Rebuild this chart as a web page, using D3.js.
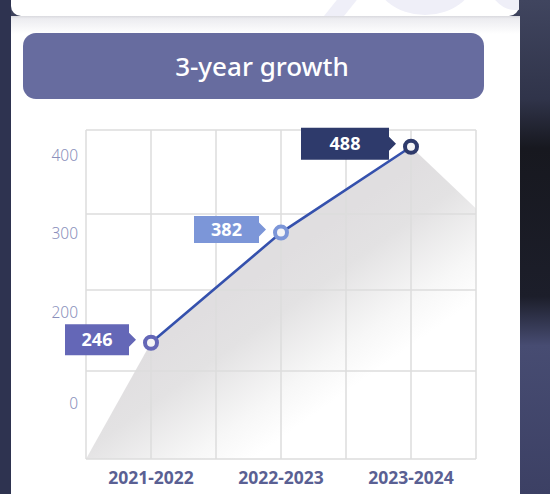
<!DOCTYPE html>
<html><head><meta charset="utf-8">
<script src="https://cdn.jsdelivr.net/npm/d3@7"></script>
<style>html,body{margin:0;padding:0;background:#2a2e44;}svg{display:block;}</style>
</head><body>
<svg id="chart" width="550" height="494"></svg>
<script>
// ---- data ----
const categories = ["2021-2022", "2022-2023", "2023-2024"];
const values = [246, 382, 488];
const yTickLabels = [400, 300, 200, 0];
const title = "3-year growth";

// ---- style ----
const pointColors = ["#6467b7", "#7c96d8", "#2e3a6b"];
const tagWidths = [64, 65, 88];
const tagHeights = [31, 27, 32];

(function(){
const svg = d3.select("#chart");
const defs = svg.append("defs");

// background side strips
const bg = defs.append("linearGradient").attr("id","bg").attr("x1",0).attr("y1",0).attr("x2",0).attr("y2",1);
[[0,"#40455f"],[0.2,"#30344a"],[0.3,"#17181f"],[0.6,"#1c1e2a"],[0.7,"#474c72"],[1,"#3c4064"]].forEach(s=>bg.append("stop").attr("offset",s[0]).attr("stop-color",s[1]));
svg.append("rect").attr("width",550).attr("height",494).attr("fill","url(#bg)");
svg.append("rect").attr("x",0).attr("width",11).attr("height",494).attr("fill","#2e3350");

// top card strip with faint decorative shapes
defs.append("clipPath").attr("id","topclip").append("rect").attr("x",11).attr("y",0).attr("width",508).attr("height",16);
svg.append("rect").attr("x",11).attr("y",-10).attr("width",508).attr("height",26).attr("rx",10).attr("fill","#ffffff");
const deco = svg.append("g").attr("clip-path","url(#topclip)").attr("fill","#efeff8");
deco.append("path").attr("d","M324,16L344,16L360,-4L340,-4Z");
deco.append("ellipse").attr("cx",425).attr("cy",-28).attr("rx",52).attr("ry",43);
deco.append("ellipse").attr("cx",515).attr("cy",-30).attr("rx",30).attr("ry",40);

// main card
const sh = defs.append("linearGradient").attr("id","sh").attr("x1",0).attr("y1",0).attr("x2",0).attr("y2",1);
[[0,"#d9d9de"],[0.15,"#ececf0"],[1,"#ffffff"]].forEach(s=>sh.append("stop").attr("offset",s[0]).attr("stop-color",s[1]));
svg.append("rect").attr("x",11).attr("y",16).attr("width",509).attr("height",478).attr("fill","#ffffff");
svg.append("rect").attr("x",11).attr("y",16).attr("width",509).attr("height",18).attr("fill","url(#sh)");

// header pill
svg.append("rect").attr("x",23).attr("y",33).attr("width",461).attr("height",66).attr("rx",13)
  .attr("fill","#676c9f");
svg.append("text").attr("x",262).attr("y",76).attr("text-anchor","middle")
  .attr("font-family","Noto Sans").attr("font-weight",500).attr("font-size",26)
  .attr("fill","#ffffff").text(title);

// ---- scales ----
const pLeft = 86, pRight = 476, pTop = 130, pBottom = 459;
const x = d3.scalePoint().domain(categories).range([pLeft, pRight]).padding(0.5);
const y = d3.scaleLinear().domain([0, 500]).range([542, 137]);
const yLabelScale = d3.scaleLinear().domain([0, 200, 300, 400]).range([403, 312, 233, 155]);
const gridY = d3.scaleLinear().domain([0,1,2,3,4]).range([pTop, 214, 290, 371, pBottom]);
const gridX = d3.scaleLinear().domain([0, 6]).range([pLeft, pRight]);

const pts = categories.map((c,i)=>({c, v: values[i], x: x(c), y: y(values[i]), i}));

// shadow area
const shade = defs.append("linearGradient").attr("id","shade").attr("gradientUnits","userSpaceOnUse")
  .attr("x1",250).attr("y1",280).attr("x2",335).attr("y2",400);
[[0,"#e0dee0"],[0.3,"#e3e2e3"],[0.75,"#f7f7f7"],[1,"#ffffff"]].forEach(s=>shade.append("stop").attr("offset",s[0]).attr("stop-color",s[1]));
const last = pts[pts.length-1];
const poly = [[pLeft, pBottom]].concat(pts.map(p=>[p.x,p.y]))
  .concat([[pRight, last.y + (pRight-last.x)*0.95],[pRight, pBottom]]);
svg.append("path").attr("d", d3.line()(poly) + "Z").attr("fill","url(#shade)");

// grid
const grid = svg.append("g").attr("stroke","#dcdcdc").attr("stroke-width",1.5);
d3.range(7).forEach(k=>grid.append("line").attr("x1",gridX(k)).attr("x2",gridX(k)).attr("y1",pTop).attr("y2",pBottom));
d3.range(5).forEach(k=>grid.append("line").attr("x1",pLeft).attr("x2",pRight).attr("y1",gridY(k)).attr("y2",gridY(k)));

// y labels
svg.append("g").selectAll("text").data(yTickLabels).join("text")
  .attr("x",78).attr("y",d=>yLabelScale(d)).attr("dy","0.36em").attr("text-anchor","end")
  .attr("font-family","Noto Sans").attr("font-weight",300).attr("font-size",15.5)
  .attr("fill","#8a8fbb").text(d=>d);

// x labels
svg.append("g").selectAll("text").data(categories).join("text")
  .attr("x",d=>x(d)).attr("y",484).attr("text-anchor","middle")
  .attr("font-family","Noto Sans").attr("font-weight",700).attr("font-size",17.5)
  .attr("fill","#5a6093").text(d=>d);

// line
svg.append("path").datum(pts).attr("d", d3.line().x(d=>d.x).y(d=>d.y))
  .attr("fill","none").attr("stroke","#3551ad").attr("stroke-width",2.6);

// tags
const tags = svg.append("g").selectAll("g").data(pts).join("g");
tags.append("path").attr("fill",d=>pointColors[d.i]).attr("d",d=>{
  const r = d.x - 22, cy = d.y - 3, w = tagWidths[d.i], h = tagHeights[d.i];
  const l = r - w, t = cy - h/2, b = cy + h/2;
  return `M${l},${t}H${r}V${cy-7}L${r+7},${cy}L${r},${cy+7}V${b}H${l}Z`;
});
tags.append("text").attr("x",d=>d.x - 22 - tagWidths[d.i]/2).attr("y",d=>d.y-3).attr("dy","0.36em")
  .attr("text-anchor","middle").attr("font-family","Noto Sans").attr("font-weight",700)
  .attr("font-size",18).attr("fill","#ffffff").text(d=>d.v);

// points
svg.append("g").selectAll("circle").data(pts).join("circle")
  .attr("cx",d=>d.x).attr("cy",d=>d.y).attr("r",6)
  .attr("fill","#f4f4f6").attr("stroke",d=>pointColors[d.i]).attr("stroke-width",4);
})();
</script>
</body></html>
